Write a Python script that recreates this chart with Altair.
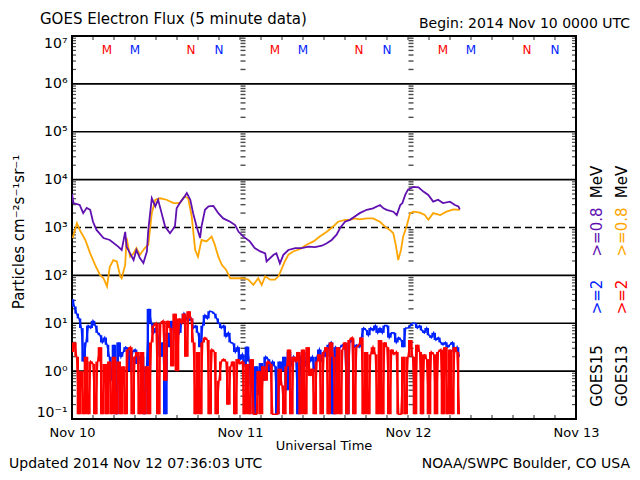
import altair as alt
import numpy as np
import pandas as pd

F = -0.9  # plotted floor level (log10) for zero readings

# >=2 MeV, 20-minute samples from Nov 10 00:00 UTC, log10 flux
goes15_2mev_log = [
    1.5, 1.35, 1.2,  1.1, 0.9, 0.2,  0.6, 0.95, 0.9,  1.05, 0.95, 0.8,
    0.75, 0.6, 0.7,  0.55, 0.3, -0.2,  0.55, F, 0.6,  0.3, 0.4, 0.5,
    0.45, 0.0, 0.4,  0.45, 0.15, 0.3,  0.3, F, 0.1,  1.3, 1.0, 0.8,
    0.9, 0.7, 0.3,  0.6, F, 0.8,  0.5, 1.05, 0.85,  0.9, 0.8, 1.0,
    1.2, 1.1, 1.05,  1.1, 0.9, 0.95,  0.8, 0.5, 0.95,  1.17, 1.1, 1.25,
    1.24, 1.2, 1.1,  1.0, 0.9, 0.95,  0.72, 0.8, 0.6,  0.58, 0.4, 0.5,
    0.24, 0.35, 0.1,  0.51, 0.2, -0.3,  F, 0.1, -0.5,  0.17, -0.2, 0.3,
    0.25, 0.0, 0.2,  0.1, F, 0.2,  0.0, 0.3, -0.4,  0.4, 0.1, 0.3,
    0.2, F, 0.3,  0.25, 0.1, 0.4,  0.2, 0.3, 0.0,  0.3, 0.45, 0.2,
    0.4, 0.3, 0.55,  0.6, F, 0.5,  0.45, 0.5, 0.55,  0.55, F, 0.6,
    0.65, 0.5, 0.55,  0.5, 0.7, 0.9,  0.86, 0.75, 0.9,  0.85, 0.95, 0.8,
    0.9, 0.8, 0.95,  0.95, 0.7, 0.8,  0.8, 0.6, 0.7,  0.65, 0.5, 0.9,
    0.9, 0.95, 1.0,  1.0, 0.9, 0.95,  0.85, 0.8, 0.9,  0.75, 0.7, 0.8,
    0.65, 0.7, 0.6,  0.55, 0.6, 0.5,  0.55, 0.6, 0.4,  0.5, 0.3,
]
goes13_2mev_log = [
    0.4, 0.6, 0.3,  F, 0.0, F,  0.3, F, 0.2,  0.15, F, 0.2,
    0.5, F, 0.15,  F, 0.2, F,  0.3, F, 0.2,  F, 0.1, F,
    0.45, 0.5, F,  0.3, 0.4, F,  0.4, F, 0.1,  F, 0.6, 0.95,
    1.0, F, 1.0,  1.05, -0.2, 1.05,  0.9, 0.1, 1.2,  0.0, 1.1, 1.0,
    1.2, 0.3, 1.25,  1.1, 0.6, F,  0.4, F, 0.6,  0.7, 0.65, F,
    0.45, 0.4, F,  -0.2, 0.2, 0.25,  0.2, -0.7, 0.1,  0.2, F, 0.25,
    0.15, 0.2, F,  0.15, F, 0.25,  F, F, 0.0,  F, 0.1, -0.2,
    0.2, 0.15, F,  F, F, 0.05,  -0.3, F, 0.1,  0.45, F, 0.3,
    0.2, 0.4, F,  0.45, F, 0.5,  -0.1, 0.05, F,  0.2, 0.35, F,
    0.4, 0.5, F,  0.6, 0.3, F,  0.5, F, 0.45,  0.6, F, 0.65,
    0.7, F, 0.5,  0.55, 0.7, F,  0.4, F, 0.35,  0.5, 0.35, F,
    0.65, F, 0.6,  0.5, F, 0.45,  0.35, 0.4, F,  F, 0.3, F,
    0.3, 0.65, 0.3,  F, 0.55, 0.4,  F, 0.35, 0.25,  F, 0.4, 0.35,
    F, 0.4, 0.45,  F, 0.5, F,  0.45, F, 0.5,  0.4, F,
]

# >=0.8 MeV, hours since Nov 10 00:00 UTC and log10 flux
goes15_08_hours = [
    0.0, 0.2, 1.1, 1.6, 2.1, 2.6, 3.0, 3.5, 4.5, 5.4, 6.6, 7.1, 7.6, 7.8, 8.3,
    8.8, 9.2, 9.7, 10.2, 10.7, 10.9, 11.4, 11.9, 12.3, 12.8, 13.3, 14.0, 14.7,
    14.95, 15.4, 16.1, 16.4, 16.9, 17.3, 17.8, 18.3, 18.5, 19.0, 19.5, 20.2,
    20.9, 21.6, 22.6, 23.3, 23.8, 24.5, 25.4, 26.1, 26.9, 27.6, 27.8, 28.8,
    29.2, 29.7, 30.2, 30.9, 31.9, 32.8, 33.8, 34.7, 35.7, 36.4, 37.1, 37.8,
    38.3, 39.0, 39.7, 40.4, 41.1, 42.1, 43.0, 44.0, 44.5, 44.96, 45.9, 46.4,
    46.9, 47.2, 47.6, 48.0, 48.8, 49.5, 50.2, 50.9, 51.6, 52.3, 53.0, 54.0,
    54.7, 55.2, 55.4,
]
goes15_08_log = [
    3.70, 3.51, 3.47, 3.30, 3.41, 3.37, 3.12, 2.95, 2.78, 2.74, 2.60, 2.53,
    2.91, 2.60, 2.46, 2.32, 2.53, 2.36, 2.26, 2.50, 2.95, 3.61, 3.44, 3.58,
    3.30, 3.02, 2.88, 3.02, 3.40, 3.51, 3.65, 3.72, 3.58, 3.30, 3.02, 2.78,
    3.02, 3.37, 3.44, 3.45, 3.30, 3.19, 3.12, 3.05, 2.91, 2.81, 2.71, 2.57,
    2.50, 2.46, 2.29, 2.43, 2.46, 2.25, 2.43, 2.53, 2.57, 2.57, 2.60, 2.59,
    2.62, 2.67, 2.74, 2.85, 2.99, 3.12, 3.16, 3.23, 3.30, 3.37, 3.40, 3.47,
    3.40, 3.37, 3.33, 3.26, 3.47, 3.51, 3.68, 3.79, 3.85, 3.84, 3.75, 3.68,
    3.54, 3.58, 3.51, 3.54, 3.47, 3.44, 3.38,
]
goes13_08_hours = [
    0.1, 0.7, 1.1, 1.9, 2.6, 3.3, 4.0, 4.5, 5.0, 5.4, 5.9, 6.4, 6.9, 7.1, 7.6,
    7.8, 8.3, 8.8, 9.2, 9.7, 10.4, 10.9, 11.4, 11.9, 12.6, 13.5, 14.5, 15.4,
    16.1, 16.6, 17.1, 17.6, 18.0, 18.5, 19.2, 19.95, 20.4, 20.9, 21.4, 22.0,
    22.6, 23.5, 24.5, 25.2, 25.9, 26.6, 27.1, 27.6, 28.3, 29.0, 29.5, 30.0,
    30.4, 30.9, 31.6, 32.6, 33.5, 34.5, 35.4, 36.4, 37.3, 38.0, 39.0, 39.7,
    40.4, 41.1, 42.1, 43.0, 44.0, 44.7, 45.4, 45.9, 46.3, 46.6, 47.0, 47.3,
    47.8, 48.3, 48.8, 49.7, 50.4, 50.9, 51.6, 52.6, 53.5, 54.5, 55.4,
]
goes13_08_log = [
    2.78, 3.09, 2.95, 2.74, 2.46, 2.22, 2.01, 1.94, 1.77, 2.18, 2.32, 2.29,
    1.98, 1.94, 2.22, 2.78, 2.39, 2.46, 2.57, 2.43, 2.57, 2.64, 3.30, 3.58,
    3.61, 3.58, 3.51, 3.51, 3.65, 3.61, 3.23, 2.53, 2.39, 2.74, 2.71, 2.81,
    2.64, 2.39, 2.22, 2.12, 1.94, 1.94, 1.94, 1.91, 1.80, 1.94, 1.80, 1.98,
    1.91, 1.91, 1.98, 2.15, 2.29, 2.43, 2.50, 2.55, 2.64, 2.71, 2.81, 2.91,
    3.02, 3.12, 3.16, 3.16, 3.19, 3.17, 3.19, 3.19, 3.12, 3.02, 2.95, 2.88,
    2.60, 2.32, 2.53, 2.81, 3.02, 3.30, 3.33, 3.31, 3.26, 3.16, 3.30, 3.26,
    3.33, 3.38, 3.37,
]

solid_decades = [1, 10, 100, 1e4, 1e5, 1e6]
dashed_decades = [1e3]
decade_values = [0.1, 1, 10, 100, 1e3, 1e4, 1e5, 1e6, 1e7]
decade_labels = ["10⁻¹", "10⁰", "10¹", "10²", "10³", "10⁴", "10⁵", "10⁶", "10⁷"]
day_hours = [0, 24, 48, 72]
day_labels = ["Nov 10", "Nov 11", "Nov 12", "Nov 13"]
marker_hours = [5, 9, 17, 21, 29, 33, 41, 45, 53, 57, 65, 69]
marker_text = ["M", "M", "N", "N"] * 3
marker_color = ["#ff0000", "#0022ff", "#ff0000", "#0022ff"] * 3

PURPLE = "#6010b0"
ORANGE = "#ffa500"
BLUE = "#0022ff"
RED = "#ff0000"
FONT = "DejaVu Sans"
W, H = 504, 383


# ---------- data frames ----------
def series(logs):
    h = np.arange(len(logs)) / 3.0
    v = 10 ** np.array(logs, dtype=float)
    return pd.DataFrame({"h": h, "v": v})


def bands(logs):
    # vertical extent of each segment between consecutive samples
    v = 10 ** np.array(logs, dtype=float)
    h = np.arange(len(logs)) / 3.0
    return pd.DataFrame({"h": h[:-1], "h2": h[1:],
                         "lo": np.minimum(v[:-1], v[1:]),
                         "hi": np.maximum(v[:-1], v[1:])})


df_b = series(goes15_2mev_log)
df_r = series(goes13_2mev_log)
df_bb = bands(goes15_2mev_log)
df_rb = bands(goes13_2mev_log)
df_p = pd.DataFrame({"h": goes15_08_hours, "v": 10 ** np.array(goes15_08_log)})
df_o = pd.DataFrame({"h": goes13_08_hours, "v": 10 ** np.array(goes13_08_log)})
df_m = pd.DataFrame({"h": marker_hours, "t": marker_text, "c": marker_color,
                     "v": [5e6] * len(marker_hours)})
minor = [m * 10.0 ** k for k in range(-1, 7) for m in range(2, 10)]
df_minor_edge = pd.DataFrame({"v": minor, "h0": [0] * len(minor), "h1": [72] * len(minor)})
df_minor_day = pd.DataFrame({"v": minor * 2, "h": [24] * len(minor) + [48] * len(minor)})
df_xt = pd.DataFrame({"h": list(range(3, 72, 3))})

label_js = "[" + ",".join("'%s'" % s for s in decade_labels) + "]"
day_js = "[" + ",".join("'%s'" % s for s in day_labels) + "]"

XS = alt.Scale(domain=[0, 72], nice=False, zero=False)
YS = alt.Scale(type="log", domain=[0.1, 1e7], nice=False)
XAX = alt.Axis(values=day_hours, labelExpr=day_js + "[round(datum.value/24)]",
               ticks=False, domain=False, grid=False, title=None,
               labelFont=FONT, labelFontSize=13, labelColor="black",
               labelPadding=7, labelFlush=False, labelOverlap=False)
YAX = alt.Axis(values=decade_values,
               labelExpr=label_js + "[round(log(datum.value)/LN10)+1]",
               ticks=False, domain=False, grid=False, title=None,
               labelFont=FONT, labelFontSize=14, labelColor="black",
               labelPadding=5, labelFlush=True, labelOverlap=False)


def X(f):
    return alt.X(f, type="quantitative", scale=XS, axis=XAX)


def Y(f):
    return alt.Y(f, type="quantitative", scale=YS, axis=YAX)


grid = alt.Chart(pd.DataFrame({"v": solid_decades})).mark_rule(
    color="black", strokeWidth=1.6).encode(y=Y("v"))
grid_d = alt.Chart(pd.DataFrame({"v": dashed_decades})).mark_rule(
    color="black", strokeWidth=1.6, strokeDash=[7, 4]).encode(y=Y("v"))

tick_l = alt.Chart(df_minor_edge).mark_tick(
    orient="horizontal", size=4, thickness=1.2, color="black", xOffset=2
).encode(x=X("h0"), y=Y("v"))
tick_r = alt.Chart(df_minor_edge).mark_tick(
    orient="horizontal", size=4, thickness=1.2, color="black", xOffset=-2
).encode(x=X("h1"), y=Y("v"))
tick_d = alt.Chart(df_minor_day).mark_tick(
    orient="horizontal", size=5, thickness=1.4, color="black", xOffset=3
).encode(x=X("h"), y=Y("v"))
tick_top = alt.Chart(df_xt).mark_tick(
    orient="vertical", size=4, thickness=1.2, color="black", yOffset=2
).encode(x=X("h"), y=alt.value(0))
tick_bot = alt.Chart(df_xt).mark_tick(
    orient="vertical", size=4, thickness=1.2, color="black", yOffset=-2
).encode(x=X("h"), y=alt.value(H))

band_b = alt.Chart(df_bb).mark_rect(color=BLUE, clip=True).encode(
    x=X("h"), x2="h2", y=Y("lo"), y2="hi")
band_r = alt.Chart(df_rb).mark_rect(color=RED, clip=True).encode(
    x=X("h"), x2="h2", y=Y("lo"), y2="hi")
line_b = alt.Chart(df_b).mark_line(color=BLUE, strokeWidth=1.6, clip=True).encode(x=X("h"), y=Y("v"))
line_r = alt.Chart(df_r).mark_line(color=RED, strokeWidth=1.6, clip=True).encode(x=X("h"), y=Y("v"))
line_o = alt.Chart(df_o).mark_line(color=ORANGE, strokeWidth=1.8, clip=True).encode(x=X("h"), y=Y("v"))
line_p = alt.Chart(df_p).mark_line(color=PURPLE, strokeWidth=1.8, clip=True).encode(x=X("h"), y=Y("v"))

markers = alt.Chart(df_m).mark_text(font=FONT, fontSize=12, baseline="middle").encode(
    x=X("h"), y=Y("v"), text="t:N", color=alt.Color("c:N", scale=None))


def label(text, x, y, size, color="black", align="left", baseline="alphabetic", angle=None):
    kw = dict(font=FONT, fontSize=size, color=color, align=align, baseline=baseline)
    if angle is not None:
        kw["angle"] = angle
    return alt.Chart(pd.DataFrame({"t": [text]})).mark_text(**kw).encode(
        text="t:N", x=alt.value(x), y=alt.value(y))


texts = [
    label("GOES Electron Flux (5 minute data)", -32, -12, 15),
    label("Begin: 2014 Nov 10 0000 UTC", 558, -8, 14, align="right"),
    label("Updated 2014 Nov 12 07:36:03 UTC", -63, 432, 14),
    label("NOAA/SWPC Boulder, CO USA", 558, 432, 14, align="right"),
    label("Universal Time", W / 2, 414, 13, align="center"),
    label("Particles cm⁻²s⁻¹sr⁻¹", -53, 196, 15, align="center", baseline="middle", angle=270),
    # right-hand legend columns
    label("GOES15", 525, 340, 15, align="center", baseline="middle", angle=270),
    label(">=2", 525, 261, 15, color=BLUE, align="center", baseline="middle", angle=270),
    label(">=0.8", 525, 196, 15, color=PURPLE, align="center", baseline="middle", angle=270),
    label("MeV", 525, 146, 15, align="center", baseline="middle", angle=270),
    label("GOES13", 550, 340, 15, align="center", baseline="middle", angle=270),
    label(">=2", 550, 261, 15, color=RED, align="center", baseline="middle", angle=270),
    label(">=0.8", 550, 196, 15, color=ORANGE, align="center", baseline="middle", angle=270),
    label("MeV", 550, 146, 15, align="center", baseline="middle", angle=270),
]

chart = alt.layer(
    grid, grid_d, tick_l, tick_r, tick_d, tick_top, tick_bot,
    band_b, line_b, band_r, line_r, line_o, line_p, markers, *texts
).properties(
    width=W, height=H,
    autosize=alt.AutoSizeParams(type="none"),
    padding={"left": 64, "top": 28, "right": 56, "bottom": 53},
    background="white",
).configure_view(stroke="black", strokeWidth=2)

chart.save("out.html", embed_options={"renderer": "svg", "actions": False})
